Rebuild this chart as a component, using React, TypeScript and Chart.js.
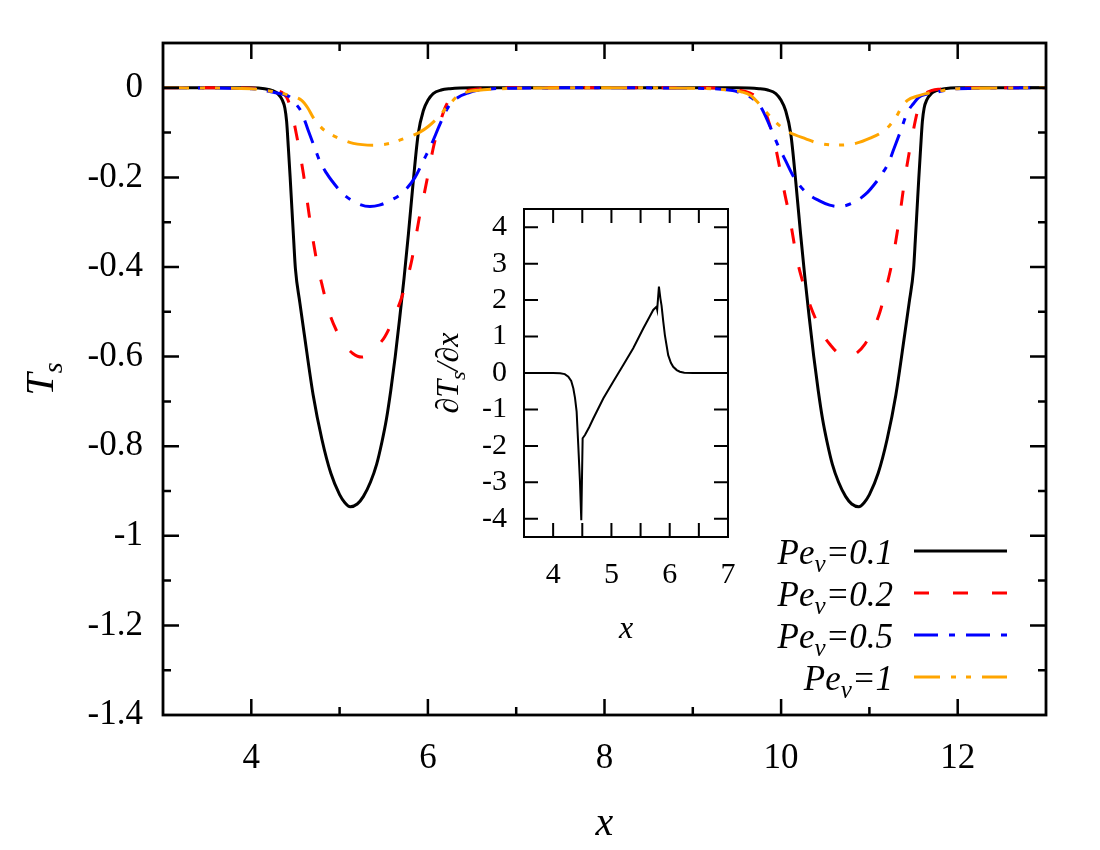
import { useEffect, useRef } from 'react';
import { Chart, registerables, type ChartConfiguration, type Plugin } from 'chart.js';

Chart.register(...registerables);

const SERIF = '"Liberation Serif", "DejaVu Serif", "Noto Serif", Tinos, "Times New Roman", Times, serif';

// main panel: surface temperature T_s for four Pe_v values
const PE01_X = [3, 3.5, 4, 4.15, 4.25, 4.3, 4.35, 4.38, 4.4, 4.42, 4.44, 4.46, 4.48, 4.5, 4.55, 4.6, 4.7, 4.8, 4.9, 5, 5.06, 5.12, 5.2, 5.27, 5.35, 5.42, 5.48, 5.53, 5.58, 5.63, 5.68, 5.73, 5.78, 5.835, 5.89, 5.95, 6, 6.06, 6.15, 6.25, 6.5, 7, 7.5, 8, 8.5, 9, 9.5, 9.75, 9.85, 9.94, 10, 10.05, 10.11, 10.165, 10.22, 10.27, 10.32, 10.37, 10.42, 10.47, 10.52, 10.58, 10.65, 10.73, 10.8, 10.88, 10.94, 11, 11.1, 11.2, 11.3, 11.4, 11.45, 11.5, 11.52, 11.54, 11.56, 11.58, 11.6, 11.62, 11.65, 11.7, 11.75, 11.85, 12, 12.5, 13];
const PE01_Y = [0, 0, 0, -0.002, -0.007, -0.013, -0.027, -0.045, -0.075, -0.135, -0.2, -0.27, -0.34, -0.405, -0.48, -0.55, -0.685, -0.785, -0.86, -0.908, -0.926, -0.935, -0.929, -0.912, -0.88, -0.84, -0.79, -0.74, -0.675, -0.6, -0.515, -0.425, -0.325, -0.207, -0.103, -0.05, -0.028, -0.013, -0.005, -0.002, 0, 0, 0, 0, 0, 0, 0, -0.002, -0.005, -0.013, -0.028, -0.05, -0.103, -0.207, -0.325, -0.425, -0.515, -0.6, -0.675, -0.74, -0.79, -0.84, -0.88, -0.912, -0.929, -0.935, -0.926, -0.908, -0.86, -0.785, -0.685, -0.55, -0.48, -0.405, -0.34, -0.27, -0.2, -0.135, -0.075, -0.045, -0.027, -0.013, -0.007, -0.002, 0, 0, 0];

const PE02_X = [3, 3.5, 4, 4.2, 4.29, 4.4, 4.45, 4.51, 4.59, 4.665, 4.74, 4.8, 4.88, 4.967, 5.05, 5.15, 5.25, 5.35, 5.45, 5.514, 5.6, 5.703, 5.76, 5.816, 5.91, 5.96, 6.005, 6.06, 6.11, 6.156, 6.2, 6.25, 6.35, 6.48, 7, 8, 9, 9.52, 9.65, 9.75, 9.8, 9.844, 9.89, 9.94, 9.995, 10.04, 10.09, 10.184, 10.24, 10.297, 10.4, 10.486, 10.55, 10.65, 10.75, 10.85, 10.95, 11.033, 11.12, 11.2, 11.26, 11.335, 11.41, 11.49, 11.55, 11.6, 11.71, 11.8, 12, 12.5, 13];
const PE02_Y = [0, 0, -0.001, -0.003, -0.006, -0.021, -0.048, -0.103, -0.192, -0.297, -0.386, -0.439, -0.5, -0.543, -0.572, -0.593, -0.601, -0.593, -0.572, -0.555, -0.52, -0.468, -0.43, -0.386, -0.282, -0.235, -0.19, -0.135, -0.095, -0.066, -0.042, -0.025, -0.012, -0.005, 0, 0, 0, -0.005, -0.012, -0.025, -0.042, -0.066, -0.095, -0.135, -0.19, -0.235, -0.282, -0.386, -0.43, -0.468, -0.52, -0.555, -0.572, -0.593, -0.601, -0.593, -0.572, -0.543, -0.5, -0.439, -0.386, -0.297, -0.192, -0.103, -0.048, -0.021, -0.006, -0.003, -0.001, 0, 0];

const PE05_X = [3, 4, 4.25, 4.35, 4.44, 4.5, 4.57, 4.646, 4.72, 4.78, 4.85, 4.91, 5.04, 5.2, 5.344, 5.45, 5.57, 5.72, 5.854, 5.948, 6.043, 6.137, 6.23, 6.345, 6.45, 6.55, 7, 8, 9, 9.45, 9.55, 9.655, 9.77, 9.863, 9.957, 10.052, 10.146, 10.28, 10.43, 10.55, 10.656, 10.8, 10.96, 11.09, 11.15, 11.22, 11.28, 11.354, 11.43, 11.5, 11.56, 11.65, 11.75, 12, 13];
const PE05_Y = [0, -0.002, -0.01, -0.014, -0.021, -0.035, -0.055, -0.096, -0.135, -0.166, -0.19, -0.207, -0.237, -0.258, -0.265, -0.262, -0.252, -0.233, -0.2, -0.163, -0.125, -0.081, -0.043, -0.021, -0.012, -0.006, -0.001, 0, -0.001, -0.006, -0.012, -0.021, -0.043, -0.081, -0.125, -0.163, -0.2, -0.233, -0.252, -0.262, -0.265, -0.258, -0.237, -0.207, -0.19, -0.166, -0.135, -0.096, -0.055, -0.035, -0.021, -0.014, -0.01, -0.002, 0];

const PE1_X = [3, 4, 4.2, 4.36, 4.45, 4.57, 4.64, 4.7, 4.77, 4.835, 4.985, 5.155, 5.38, 5.57, 5.72, 5.91, 6, 6.1, 6.23, 6.345, 6.45, 6.55, 7, 8, 9, 9.45, 9.55, 9.655, 9.77, 9.9, 10, 10.09, 10.28, 10.43, 10.62, 10.845, 11.015, 11.165, 11.23, 11.3, 11.36, 11.43, 11.55, 11.64, 11.8, 12, 13];
const PE1_Y = [0, -0.002, -0.007, -0.013, -0.018, -0.028, -0.045, -0.066, -0.084, -0.096, -0.112, -0.124, -0.128, -0.124, -0.114, -0.099, -0.087, -0.069, -0.04, -0.017, -0.009, -0.006, -0.001, 0, -0.001, -0.006, -0.009, -0.017, -0.04, -0.069, -0.087, -0.099, -0.114, -0.124, -0.128, -0.124, -0.112, -0.096, -0.084, -0.066, -0.045, -0.028, -0.018, -0.013, -0.007, -0.002, 0];

const PE_LABELS = ['0.1', '0.2', '0.5', '1'];

const MAIN_X_TICKS = [4, 6, 8, 10, 12];
const MAIN_X_MINOR = [5, 7, 9, 11];
const MAIN_Y_TICKS = [0, -0.2, -0.4, -0.6, -0.8, -1, -1.2, -1.4];
const MAIN_Y_MINOR = [0.1, -0.1, -0.3, -0.5, -0.7, -0.9, -1.1, -1.3];

// inset: dT_s/dx for Pe_v = 0.1 around the first dip
const INSET_X = [3.5, 4, 4.12, 4.2, 4.26, 4.31, 4.346, 4.375, 4.403, 4.431, 4.46, 4.483, 4.506, 4.546, 4.62, 4.689, 4.86, 5.03, 5.203, 5.374, 5.546, 5.65, 5.717, 5.774, 5.785, 5.815, 5.84, 5.86, 5.89, 5.917, 5.95, 5.974, 6.02, 6.06, 6.12, 6.174, 6.25, 6.4, 7];
const INSET_Y = [0, 0, -0.01, -0.03, -0.1, -0.22, -0.42, -0.68, -1.06, -1.98, -2.98, -4.04, -1.79, -1.7, -1.48, -1.25, -0.7, -0.24, 0.22, 0.68, 1.22, 1.53, 1.73, 1.82, 1.74, 2.37, 2.05, 1.85, 1.4, 1.04, 0.72, 0.49, 0.28, 0.17, 0.08, 0.035, 0.01, 0, 0];

const INSET_X_TICKS = [4, 5, 6, 7];
const INSET_X_MARKS = [4, 4.5, 5, 5.5, 6, 6.5];
const INSET_Y_TICKS = [-4, -3, -2, -1, 0, 1, 2, 3, 4];

const SERIES = [
  { xs: PE01_X, ys: PE01_Y, color: '#000000', dash: [] as number[] },
  { xs: PE02_X, ys: PE02_Y, color: '#ff0000', dash: [15, 24] },
  { xs: PE05_X, ys: PE05_Y, color: '#0000ff', dash: [24, 11, 6, 11] },
  { xs: PE1_X, ys: PE1_Y, color: '#ffa500', dash: [26, 11, 5, 10, 5, 11] },
];

type Piece = { text: string; sub?: boolean };

function drawRich(
  ctx: CanvasRenderingContext2D,
  pieces: Piece[],
  x: number,
  y: number,
  size: number,
  align: 'left' | 'center' | 'right',
  angle = 0,
) {
  const subSize = Math.round(size * 0.7);
  ctx.save();
  ctx.translate(x, y);
  ctx.rotate(angle);
  ctx.textAlign = 'left';
  ctx.textBaseline = 'alphabetic';
  ctx.fillStyle = '#000';
  const widths = pieces.map(p => {
    ctx.font = `italic ${p.sub ? subSize : size}px ${SERIF}`;
    return ctx.measureText(p.text).width;
  });
  const total = widths.reduce((a, b) => a + b, 0);
  let cx = align === 'left' ? 0 : align === 'center' ? -total / 2 : -total;
  pieces.forEach((p, i) => {
    ctx.font = `italic ${p.sub ? subSize : size}px ${SERIF}`;
    ctx.fillText(p.text, cx, p.sub ? size * 0.22 : 0);
    cx += widths[i];
  });
  ctx.restore();
}

// inward tick marks on all four sides, like the original plot
function drawMarks(chart: Chart, xs: number[], ys: number[], len: number) {
  const { ctx, chartArea: a, scales } = chart;
  ctx.beginPath();
  xs.forEach(v => {
    const px = scales.x.getPixelForValue(v);
    if (px <= a.left + 1 || px >= a.right - 1) return;
    ctx.moveTo(px, a.bottom);
    ctx.lineTo(px, a.bottom - len);
    ctx.moveTo(px, a.top);
    ctx.lineTo(px, a.top + len);
  });
  ys.forEach(v => {
    const py = scales.y.getPixelForValue(v);
    if (py <= a.top + 1 || py >= a.bottom - 1) return;
    ctx.moveTo(a.left, py);
    ctx.lineTo(a.left + len, py);
    ctx.moveTo(a.right, py);
    ctx.lineTo(a.right - len, py);
  });
  ctx.stroke();
}

const mainDecor: Plugin<'line'> = {
  id: 'mainDecor',
  afterDatasetsDraw(chart) {
    const { ctx, chartArea: a } = chart;
    ctx.save();
    ctx.strokeStyle = '#000';
    ctx.setLineDash([]);
    ctx.lineWidth = 2.5;
    drawMarks(chart, MAIN_X_TICKS, MAIN_Y_TICKS, 16);
    drawMarks(chart, MAIN_X_MINOR, MAIN_Y_MINOR, 8);
    ctx.lineWidth = 2.8;
    ctx.strokeRect(a.left, a.top, a.right - a.left, a.bottom - a.top);

    // legend, bottom right inside the frame
    const lineEnd = a.right - 39;
    const lineStart = lineEnd - 93;
    SERIES.forEach((s, i) => {
      const rowY = a.top + 508 + i * 42;
      ctx.beginPath();
      ctx.strokeStyle = s.color;
      ctx.lineWidth = 3;
      ctx.lineCap = 'butt';
      ctx.setLineDash(s.dash);
      ctx.moveTo(lineStart, rowY);
      ctx.lineTo(lineEnd, rowY);
      ctx.stroke();
      drawRich(ctx, [{ text: 'Pe' }, { text: 'v', sub: true }, { text: '=' + PE_LABELS[i] }], lineStart - 21, rowY + 13, 35, 'right');
    });
    ctx.setLineDash([]);

    drawRich(ctx, [{ text: 'x' }], (a.left + a.right) / 2, 835, 40, 'center');
    drawRich(ctx, [{ text: 'T' }, { text: 's', sub: true }], 53, (a.top + a.bottom) / 2, 40, 'center', -Math.PI / 2);
    ctx.restore();
  },
};

const insetDecor: Plugin<'line'> = {
  id: 'insetDecor',
  afterDatasetsDraw(chart) {
    const { ctx, chartArea: a } = chart;
    ctx.save();
    ctx.strokeStyle = '#000';
    ctx.lineWidth = 2;
    drawMarks(chart, INSET_X_MARKS, INSET_Y_TICKS, 14);
    ctx.strokeRect(a.left, a.top, a.right - a.left, a.bottom - a.top);
    drawRich(ctx, [{ text: 'x' }], (a.left + a.right) / 2, 468, 32, 'center');
    drawRich(
      ctx,
      [{ text: '∂T' }, { text: 's', sub: true }, { text: '/∂x' }],
      58,
      (a.top + a.bottom) / 2,
      32,
      'center',
      -Math.PI / 2,
    );
    ctx.restore();
  },
};

const tickFont = (size: number) => ({ family: SERIF, size });

export default function App() {
  const mainRef = useRef<HTMLCanvasElement>(null);
  const insetRef = useRef<HTMLCanvasElement>(null);

  useEffect(() => {
    if (!mainRef.current || !insetRef.current) return;

    const mainConfig: ChartConfiguration<'line'> = {
      type: 'line',
      data: {
        datasets: SERIES.map((s, i) => ({
          label: 'Pe_v=' + PE_LABELS[i],
          data: s.xs.map((x, j) => ({ x, y: s.ys[j] })),
          borderColor: s.color,
          borderWidth: 3,
          borderDash: s.dash,
          pointRadius: 0,
          cubicInterpolationMode: 'monotone' as const,
          fill: false,
          order: SERIES.length - i,
        })),
      },
      options: {
        responsive: false,
        animation: false,
        events: [],
        layout: { padding: { left: 0, top: 43, right: 54, bottom: 0 } },
        plugins: { legend: { display: false }, tooltip: { enabled: false } },
        scales: {
          x: {
            type: 'linear',
            min: 3,
            max: 13,
            afterBuildTicks: (s: any) => { s.ticks = MAIN_X_TICKS.map(value => ({ value })); },
            afterFit: (s: any) => { s.height = 135; },
            grid: { display: false, drawTicks: false },
            border: { display: false },
            ticks: { color: '#000', font: tickFont(35), padding: 23, autoSkip: false, maxRotation: 0, callback: (v: any) => String(v) },
          },
          y: {
            type: 'linear',
            min: -1.4,
            max: 0.1,
            afterBuildTicks: (s: any) => { s.ticks = MAIN_Y_TICKS.map(value => ({ value })); },
            afterFit: (s: any) => { s.width = 163; },
            grid: { display: false, drawTicks: false },
            border: { display: false },
            ticks: { color: '#000', font: tickFont(35), padding: 20, autoSkip: false, callback: (v: any) => String(v) },
          },
        },
      },
      plugins: [mainDecor],
    };

    const insetConfig: ChartConfiguration<'line'> = {
      type: 'line',
      data: {
        datasets: [
          {
            label: 'dTs/dx',
            data: INSET_X.map((x, j) => ({ x, y: INSET_Y[j] })),
            borderColor: '#000',
            borderWidth: 2,
            pointRadius: 0,
            tension: 0,
            fill: false,
          },
        ],
      },
      options: {
        responsive: false,
        animation: false,
        events: [],
        layout: { padding: { left: 0, top: 39, right: 32, bottom: 0 } },
        plugins: { legend: { display: false }, tooltip: { enabled: false } },
        scales: {
          x: {
            type: 'linear',
            min: 3.5,
            max: 7,
            afterBuildTicks: (s: any) => { s.ticks = INSET_X_TICKS.map(value => ({ value })); },
            afterFit: (s: any) => { s.height = 123; },
            grid: { display: false, drawTicks: false },
            border: { display: false },
            ticks: { color: '#000', font: tickFont(30), padding: 20, autoSkip: false, maxRotation: 0, callback: (v: any) => String(v) },
          },
          y: {
            type: 'linear',
            min: -4.5,
            max: 4.5,
            afterBuildTicks: (s: any) => { s.ticks = INSET_Y_TICKS.map(value => ({ value })); },
            afterFit: (s: any) => { s.width = 124; },
            grid: { display: false, drawTicks: false },
            border: { display: false },
            ticks: { color: '#000', font: tickFont(30), padding: 17, autoSkip: false, callback: (v: any) => String(v) },
          },
        },
      },
      plugins: [insetDecor],
    };

    const main = new Chart(mainRef.current, mainConfig);
    const inset = new Chart(insetRef.current, insetConfig);

    // local fonts can arrive a moment late; redraw once they are there
    let alive = true;
    const fonts = (document as any).fonts;
    if (fonts && fonts.load) {
      Promise.all([
        fonts.load(`35px ${SERIF}`),
        fonts.load(`italic 35px ${SERIF}`),
      ]).then(() => {
        if (!alive) return;
        main.update('none');
        inset.update('none');
      }).catch(() => {});
    }

    return () => {
      alive = false;
      main.destroy();
      inset.destroy();
    };
  }, []);

  return (
    <div style={{ position: 'fixed', left: 0, top: 0, width: 1100, height: 850, background: '#fff' }}>
      <canvas ref={mainRef} width={1100} height={850} style={{ position: 'absolute', left: 0, top: 0 }} />
      <canvas ref={insetRef} width={360} height={490} style={{ position: 'absolute', left: 400, top: 170 }} />
    </div>
  );
}
